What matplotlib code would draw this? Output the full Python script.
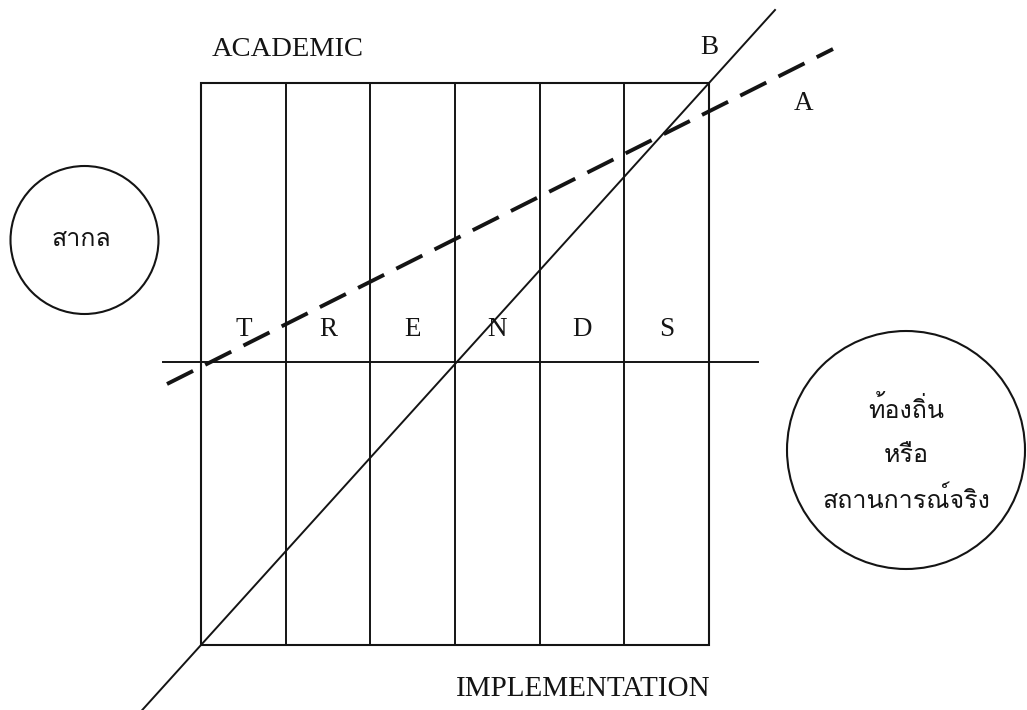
import matplotlib
matplotlib.use("Agg")
import matplotlib.pyplot as plt
from matplotlib import font_manager
from matplotlib.ft2font import FT2Font
from matplotlib.patches import Circle, Rectangle

# labels
column_letters = ["T", "R", "E", "N", "D", "S"]
top_label = "ACADEMIC"
bottom_label = "IMPLEMENTATION"
line_labels = ["A", "B"]
left_circle_text = "สากล"
right_circle_text = ["ท้องถิ่น", "หรือ", "สถานการณ์จริง"]


def thai_font():
    # find an installed font that really has thai glyphs
    names = []
    for f in font_manager.fontManager.ttflist:
        try:
            ft = FT2Font(f.fname)
            if ft.get_char_index(ord("ส")) and ft.get_char_index(ord("ณ")):
                names.append(f.name)
        except Exception:
            pass
    return names[0] if names else "DejaVu Sans"


TH = thai_font()
SERIF = "Liberation Serif"
INK = "#141414"

fig = plt.figure(figsize=(10.27, 7.10), dpi=100)
ax = fig.add_axes([0, 0, 1, 1])
ax.set_xlim(0, 1027)
ax.set_ylim(710, 0)
ax.axis("off")

# box with the six columns
x0, x1, y0, y1 = 201, 709, 83, 645
n = len(column_letters)
w = (x1 - x0) / n
ax.add_patch(Rectangle((x0, y0), x1 - x0, y1 - y0, fill=False, lw=1.5, ec=INK))
for i in range(1, n):
    ax.plot([x0 + i * w, x0 + i * w], [y0, y1], color=INK, lw=1.4)

# horizontal axis
hy = 362
ax.plot([163, 758], [hy, hy], color=INK, lw=1.4)

for i, letter in enumerate(column_letters):
    ax.text(x0 + (i + 0.5) * w, 329, letter, fontsize=19.5, family=SERIF,
            ha="center", va="center", color=INK)

# line B (solid) through the bottom left and top right corners
slope_b = (y0 - y1) / (x1 - x0)
xb = [142, 775]
ax.plot(xb, [y1 + slope_b * (x - x0) for x in xb], color=INK, lw=1.4)

# line A (dashed)
xa = [167, 833]
ax.plot(xa, [384 + (49 - 384) / (833 - 167) * (x - 167) for x in xa],
        color=INK, lw=2.8, dashes=(7.5, 3.5))

ax.text(709, 47, line_labels[1], fontsize=19.5, family=SERIF, ha="center", va="center", color=INK)
ax.text(804, 104, line_labels[0], fontsize=19.5, family=SERIF, ha="center", va="center", color=INK)
ax.text(212, 50, top_label, fontsize=20.5, family=SERIF, ha="left", va="center", color=INK)
ax.text(456, 689, bottom_label, fontsize=21, family=SERIF, ha="left", va="center", color=INK)

# circles
ax.add_patch(Circle((84.5, 240), 74, fill=False, lw=1.5, ec=INK))
ax.text(81, 240, left_circle_text, fontsize=18, family=TH, ha="center", va="center", color=INK)

ax.add_patch(Circle((906, 450), 119, fill=False, lw=1.5, ec=INK, clip_on=False))
for txt, yy in zip(right_circle_text, [410, 456, 500]):
    ax.text(906, yy, txt, fontsize=18, family=TH, ha="center", va="center", color=INK)

fig.savefig("out.png", dpi=100)
